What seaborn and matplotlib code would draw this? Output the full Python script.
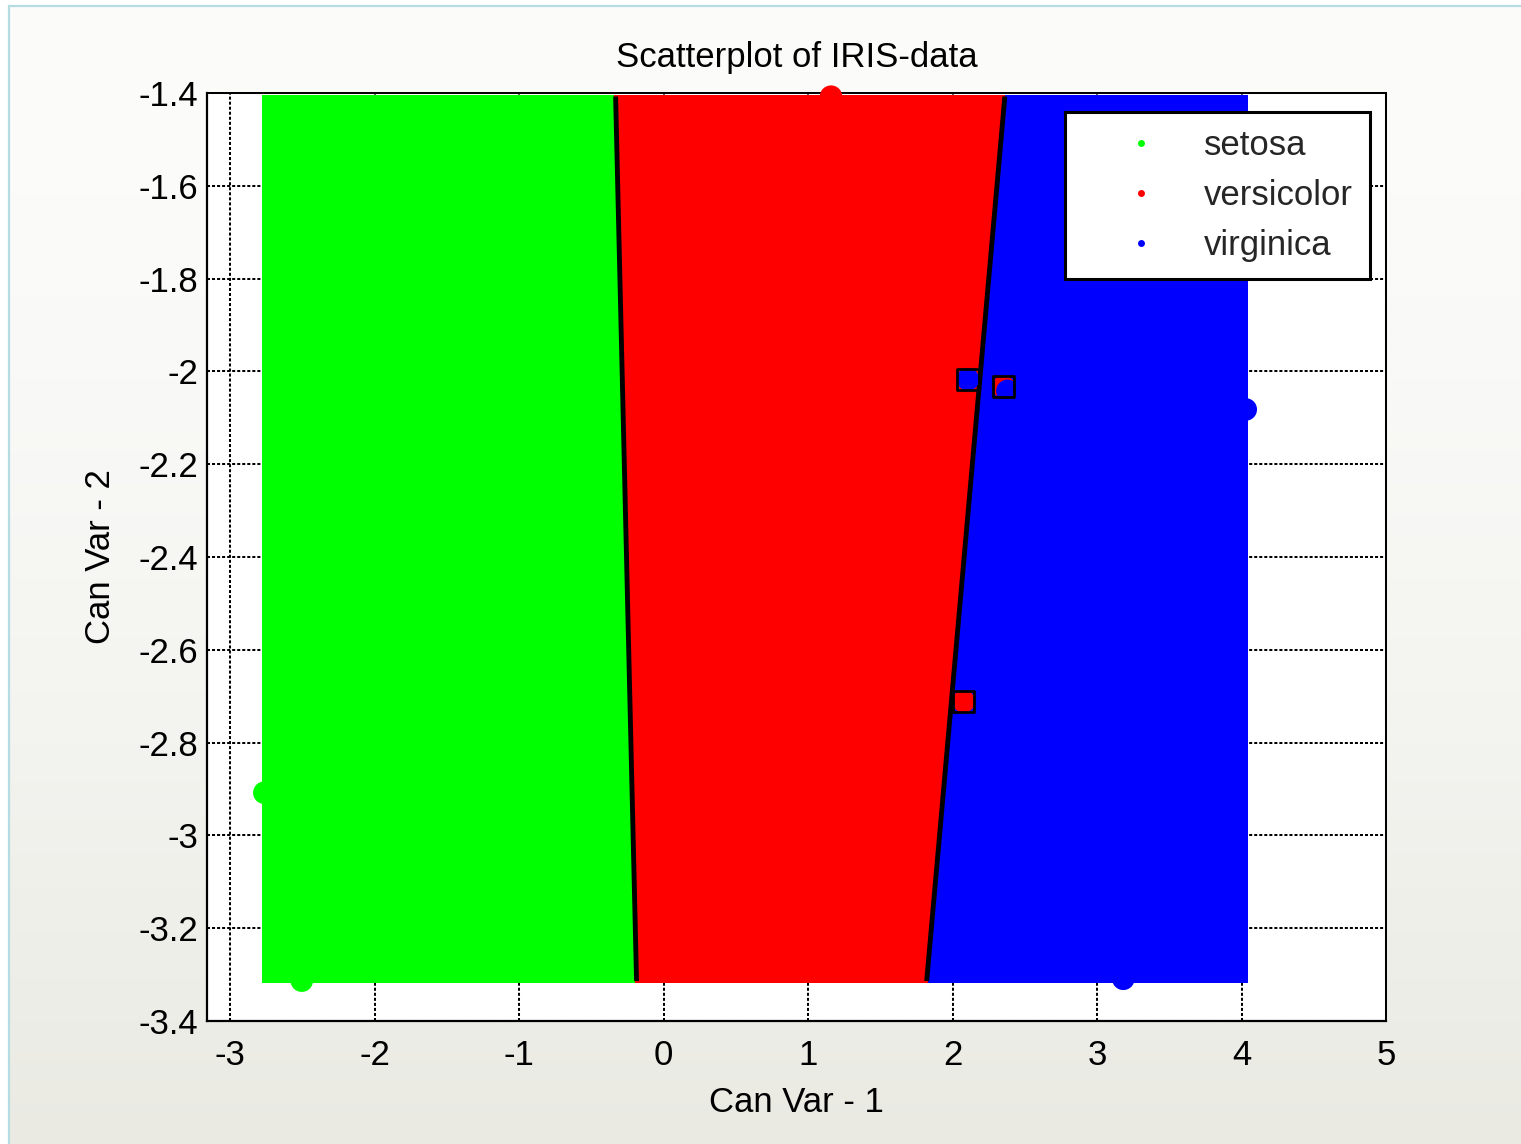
import numpy as np
import pandas as pd
import matplotlib
matplotlib.use("Agg")
import matplotlib.pyplot as plt
from matplotlib.lines import Line2D
from matplotlib.ticker import FuncFormatter
import seaborn as sns

# ---------------------------------------------------------------- data
species = ["setosa", "versicolor", "virginica"]
species_colors = ["#00FF00", "#FF0000", "#0000FF"]

# observations on the two canonical variates (extreme points + misclassified ones)
obs_species = ["setosa", "setosa", "versicolor", "virginica", "virginica",
               "virginica", "versicolor", "virginica", "versicolor"]
obs_cv1 = [-2.763, -2.504, 1.159, 4.029, 3.182, 2.106, 2.352, 2.380, 2.077]
obs_cv2 = [-2.908, -3.313, -1.408, -2.082, -3.309, -2.017, -2.033, -2.042, -2.711]
obs_misclassified = [False, False, False, False, False, True, True, False, True]

# linear decision boundaries (cv1 at the top and bottom of the map)
bound_cv2 = [-1.4075, -3.314]
bound_left_cv1 = [-0.332, -0.187]
bound_right_cv1 = [2.362, 1.821]

x_ticks = [-3, -2, -1, 0, 1, 2, 3, 4, 5]
y_ticks = [-3.4, -3.2, -3.0, -2.8, -2.6, -2.4, -2.2, -2.0, -1.8, -1.6, -1.4]

# ---------------------------------------------------------------- style
sns.set_theme(style="white")
plt.rcParams["font.family"] = ["Liberation Sans", "DejaVu Sans"]
plt.rcParams["axes.unicode_minus"] = False
FS = 25

W, H = 1521, 1144
fig = plt.figure(figsize=(W / 100, H / 100), dpi=100, facecolor="white")

# slide background: white fading into a pale warm grey towards the bottom
bg = fig.add_axes([9 / W, 0, 1 - 9 / W, 1 - 6 / H], zorder=-10)
t = np.linspace(0, 1, 400)[:, None] ** 1.6
top_c = np.array([252, 252, 251]) / 255
bot_c = np.array([234, 234, 227]) / 255
grad = top_c[None, None, :] * (1 - t[..., None]) + bot_c[None, None, :] * t[..., None]
grad = np.repeat(grad, 4, axis=1)
bg.imshow(grad, aspect="auto", extent=[0, 1, 0, 1], origin="upper")
bg.set_axis_off()
fig.add_artist(Line2D([8.5 / W, 1], [1 - 5.5 / H] * 2, transform=fig.transFigure,
                      color="#B4DCE2", lw=1.6))
fig.add_artist(Line2D([8.5 / W] * 2, [0, 1 - 5.5 / H], transform=fig.transFigure,
                      color="#B4DCE2", lw=1.6))

ax = fig.add_axes([207 / W, (H - 1021) / H, 1179 / W, 928 / H])
ax.set_facecolor("white")

# ---------------------------------------------------------------- class map
obs = pd.DataFrame({"cv1": obs_cv1, "cv2": obs_cv2, "species": obs_species,
                    "miss": obs_misclassified})

gx, gy = np.meshgrid(np.linspace(obs.cv1.min(), obs.cv1.max(), 330),
                     np.linspace(obs.cv2.min(), obs.cv2.max(), 300))
gx, gy = gx.ravel(), gy.ravel()
left_x = np.interp(gy, bound_cv2[::-1], bound_left_cv1[::-1])
right_x = np.interp(gy, bound_cv2[::-1], bound_right_cv1[::-1])
grid_class = np.where(gx < left_x, species[0],
                      np.where(gx < right_x, species[1], species[2]))
grid = pd.DataFrame({"cv1": gx, "cv2": gy, "species": grid_class})

sns.scatterplot(data=grid, x="cv1", y="cv2", hue="species", hue_order=species,
                palette=species_colors, marker="s", s=8.5, linewidth=0,
                legend=False, ax=ax, zorder=2)

ax.plot(bound_left_cv1, bound_cv2, color="black", lw=3.5, zorder=3,
        solid_capstyle="butt")
ax.plot(bound_right_cv1, bound_cv2, color="black", lw=3.5, zorder=3,
        solid_capstyle="butt")

sns.scatterplot(data=obs, x="cv1", y="cv2", hue="species", hue_order=species,
                palette=species_colors, s=265, linewidth=0, legend=False,
                ax=ax, zorder=4, clip_on=False)

miss = obs[obs.miss]
ax.scatter(miss.cv1, miss.cv2, marker="s", s=235, facecolors="none",
           edgecolors="black", linewidths=2.0, zorder=5, clip_on=False)

# ---------------------------------------------------------------- axes
ax.set_xlim(-3.16, 5.0)
ax.set_ylim(-3.4, -1.4)
ax.set_xticks(x_ticks)
ax.set_yticks(y_ticks)
fmt = FuncFormatter(lambda v, p: f"{v:g}")
ax.xaxis.set_major_formatter(fmt)
ax.yaxis.set_major_formatter(fmt)

ax.set_axisbelow(True)
dotted = (0, (1.5, 1.0))
ax.grid(True, color="black", linestyle=dotted, linewidth=1.45)
for side in ["left", "bottom"]:
    ax.spines[side].set_color("black")
    ax.spines[side].set_linewidth(1.6)
for side in ["top", "right"]:
    ax.spines[side].set_color("black")
    ax.spines[side].set_linewidth(1.45)
    ax.spines[side].set_linestyle(dotted)

ax.tick_params(axis="both", direction="in", length=8.5, width=1.5,
               colors="black", labelsize=FS, top=False, right=False)
ax.tick_params(axis="x", pad=13)
ax.tick_params(axis="y", pad=6.5)

ax.set_title("Scatterplot of IRIS-data", fontsize=FS, pad=18.5, color="black")
ax.set_xlabel("Can Var - 1", fontsize=FS, color="black")
ax.set_ylabel("Can Var - 2", fontsize=FS, color="black")
ax.xaxis.set_label_coords(0.5, -0.0698)
ax.yaxis.set_label_coords(-0.076, 0.5)

handles = [Line2D([], [], marker="o", linestyle="none", markersize=5,
                  markerfacecolor=c, markeredgewidth=0) for c in species_colors]
leg = ax.legend(handles, species, loc="upper right",
                bbox_to_anchor=(0.9864, 0.980), borderaxespad=0,
                frameon=True, fancybox=False, framealpha=1, edgecolor="black",
                handlelength=3.40, handletextpad=0.1, borderpad=0.5,
                labelspacing=0.49, fontsize=FS)
leg.get_frame().set_linewidth(2.2)
leg.set_zorder(10)

fig.savefig("out.png", dpi=100)
